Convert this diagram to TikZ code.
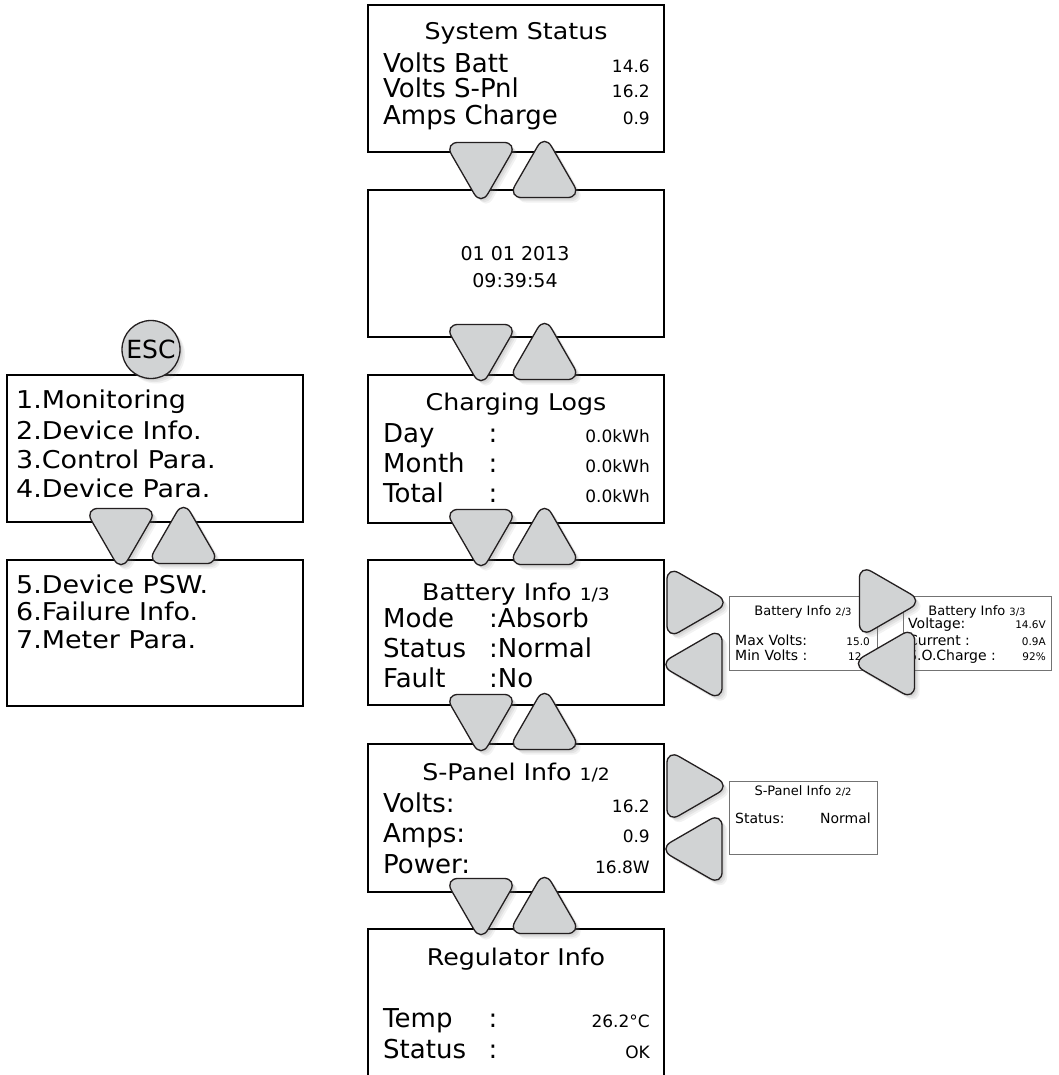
\documentclass[tikz,border=0pt]{standalone}
\usepackage{fontspec}
\setmainfont{DejaVu Sans}
\newfontfamily\widelcd{DejaVu Sans}[FakeStretch=1.1]
\usetikzlibrary{shapes.geometric, shadows}
\definecolor{btnfill}{HTML}{D1D3D4}
\definecolor{btnedge}{HTML}{231F20}
\newcommand{\lcdsize}[1]{\fontsize{#1}{#1}\selectfont}

\begin{document}
\begin{tikzpicture}[x=1pt, y=-1pt,
    scr/.style={draw=black, line width=1.4pt, minimum width=296pt, inner sep=0pt},
    sub/.style={draw=black!55, line width=1pt, minimum width=148pt, minimum height=74pt, inner sep=0pt},
    ttl/.style={anchor=base, inner sep=0pt, font=\widelcd\lcdsize{23}},
    lbl/.style={anchor=base west, inner sep=0pt, font=\lcdsize{26}},
    val/.style={anchor=base east, inner sep=0pt, font=\lcdsize{17}},
    menu/.style={anchor=base west, inner sep=0pt, font=\widelcd\lcdsize{24.5}},
    subttl/.style={anchor=base, inner sep=0pt, font=\lcdsize{13}},
    sublbl/.style={anchor=base west, inner sep=0pt, font=\lcdsize{14}},
    subval/.style={anchor=base east, inner sep=0pt, font=\lcdsize{10.5}},
    soft/.style={drop shadow={shadow xshift=5pt, shadow yshift=-5pt, opacity=0.1},
        drop shadow={shadow xshift=3.5pt, shadow yshift=-3.5pt, opacity=0.12},
        drop shadow={shadow xshift=2pt, shadow yshift=-2pt, opacity=0.15}},
    btn/.style={regular polygon, regular polygon sides=3, minimum size=84.3pt, inner sep=0pt,
        draw=btnedge, line width=1.3pt, fill=btnfill, rounded corners=13.9pt, soft},
    dnbtn/.style={btn, shape border rotate=180},
    upbtn/.style={btn},
    rtbtn/.style={btn, shape border rotate=-90},
    ltbtn/.style={btn, shape border rotate=90}]
    \clip (0,0) rectangle (1058,1075);
    \fill[white] (0,0) rectangle (1058,1075);

    \node[scr, minimum height=147pt] (ss) at (516,78.5) {};
    \node[ttl] (ssT) at (516,40) {System Status};
    \node[lbl] (ss1) at (383,73) {Volts Batt};
    \node[lbl] (ss2) at (383,98) {Volts S-Pnl};
    \node[lbl] (ss3) at (383,125) {Amps Charge};
    \node[val] (ss1v) at (650,73) {14.6};
    \node[val] (ss2v) at (650,98) {16.2};
    \node[val] (ss3v) at (650,125) {0.9};

    \node[scr, minimum height=147pt] (dt) at (516,263.5) {};
    \node[anchor=base, inner sep=0pt, font=\lcdsize{19}] (dt1) at (515,260) {01 01 2013};
    \node[anchor=base, inner sep=0pt, font=\lcdsize{19}] (dt2) at (515,287) {09:39:54};

    \node[scr, minimum height=148pt] (cl) at (516,449) {};
    \node[ttl] (clT) at (516,410) {Charging Logs};
    \node[lbl] (cl1) at (383,442) {Day};
    \node[lbl] (cl2) at (383,472) {Month};
    \node[lbl] (cl3) at (383,502) {Total};
    \node[lbl, anchor=base] (cl1c) at (493,442) {:};
    \node[lbl, anchor=base] (cl2c) at (493,472) {:};
    \node[lbl, anchor=base] (cl3c) at (493,502) {:};
    \node[val] (cl1v) at (650,442) {0.0kWh};
    \node[val] (cl2v) at (650,472) {0.0kWh};
    \node[val] (cl3v) at (650,502) {0.0kWh};

    \node[scr, minimum height=145pt] (bi) at (516,632.5) {};
    \node[ttl] (biT) at (516,600) {Battery Info {\lcdsize{17}1/3}};
    \node[lbl] (bi1) at (383,627) {Mode};
    \node[lbl] (bi2) at (383,657) {Status};
    \node[lbl] (bi3) at (383,687) {Fault};
    \node[lbl] (bi1v) at (489,627) {:Absorb};
    \node[lbl] (bi2v) at (489,657) {:Normal};
    \node[lbl] (bi3v) at (489,687) {:No};

    \node[scr, minimum height=148pt] (sp) at (516,818) {};
    \node[ttl] (spT) at (516,780) {S-Panel Info {\lcdsize{17}1/2}};
    \node[lbl] (sp1) at (383,812) {Volts:};
    \node[lbl] (sp2) at (383,842) {Amps:};
    \node[lbl] (sp3) at (383,873) {Power:};
    \node[val] (sp1v) at (650,812) {16.2};
    \node[val] (sp2v) at (650,842) {0.9};
    \node[val] (sp3v) at (650,873) {16.8W};

    \node[scr, minimum height=160pt] (ri) at (516,1009) {};
    \node[ttl] (riT) at (516,965) {Regulator Info};
    \node[lbl] (ri1) at (383,1027) {Temp};
    \node[lbl] (ri2) at (383,1058) {Status};
    \node[lbl, anchor=base] (ri1c) at (493,1027) {:};
    \node[lbl, anchor=base] (ri2c) at (493,1058) {:};
    \node[val] (ri1v) at (650,1027) {26.2°C};
    \node[val] (ri2v) at (650,1058) {OK};

    \node[scr, minimum height=147pt] (mn1) at (155,448.5) {};
    \node[menu] (mn1a) at (16,408) {1.Monitoring};
    \node[menu] (mn1b) at (16,439) {2.Device Info.};
    \node[menu] (mn1c) at (16,468) {3.Control Para.};
    \node[menu] (mn1d) at (16,497) {4.Device Para.};
    \node[scr, minimum height=146pt] (mn2) at (155,633) {};
    \node[menu] (mn2a) at (16,593) {5.Device PSW.};
    \node[menu] (mn2b) at (16,620) {6.Failure Info.};
    \node[menu] (mn2c) at (16,648) {7.Meter Para.};
    \node[circle, draw=btnedge, line width=1.3pt, fill=btnfill, minimum size=58pt, inner sep=0pt,
        font=\lcdsize{25}, soft] (esc) at (151,349.5) {ESC};

    \node[sub] (bib) at (803,633) {};
    \node[subttl] (bibT) at (803,615) {Battery Info {\lcdsize{10}2/3}};
    \node[sublbl] (bib1) at (735,645) {Max Volts:};
    \node[sublbl] (bib2) at (735,660) {Min Volts :};
    \node[subval] (bib1v) at (870,645) {15.0};
    \node[subval, anchor=base west] (bib2v) at (848,660) {12};

    \node[sub] (bic) at (977,633) {};
    \node[subttl] (bicT) at (977,615) {Battery Info {\lcdsize{10}3/3}};
    \node[sublbl] (bic1) at (908,628) {Voltage:};
    \node[sublbl] (bic2) at (908,645) {Current :};
    \node[sublbl] (bic3) at (908,660) {S.O.Charge :};
    \node[subval] (bic1v) at (1046,628) {14.6V};
    \node[subval] (bic2v) at (1046,645) {0.9A};
    \node[subval] (bic3v) at (1046,660) {92\%};

    \node[sub, minimum height=73pt] (spb) at (803,817.5) {};
    \node[subttl] (spbT) at (803,795) {S-Panel Info {\lcdsize{10}2/2}};
    \node[sublbl] (spb1) at (735,823) {Status:};
    \node[sublbl, anchor=base east] (spb1v) at (871,823) {Normal};

    \foreach \m [count=\i] in {170,352,537,722,906} {
        \node[dnbtn] (dn\i) at (481,\m-6.5) {};
        \node[upbtn] (up\i) at (544.5,\m+6.5) {};
    }
    \node[dnbtn] (mndn) at (121,529.5) {};
    \node[upbtn] (mnup) at (183.5,542.5) {};
    \node[rtbtn] (bir) at (688,602.5) {};
    \node[ltbtn] (bil) at (701,664.5) {};
    \node[rtbtn] (bibr) at (880.5,601) {};
    \node[ltbtn] (bibl) at (893.5,663.5) {};
    \node[rtbtn] (spr) at (688,786) {};
    \node[ltbtn] (spl) at (701,849) {};
\end{tikzpicture}
\end{document}
